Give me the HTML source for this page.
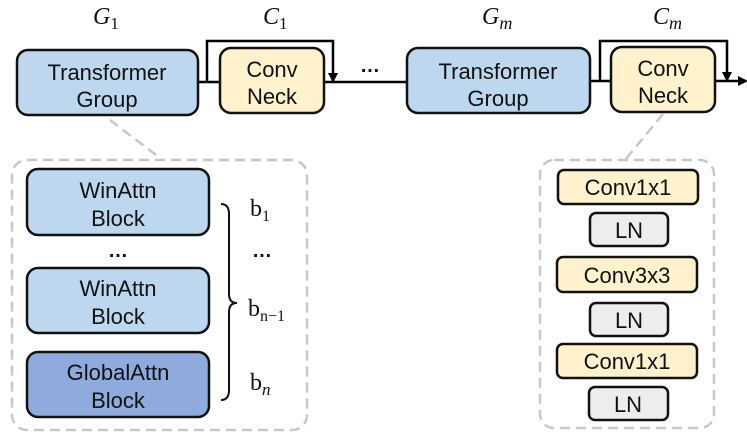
<!DOCTYPE html>
<html><head><meta charset="utf-8"><style>
html,body{margin:0;padding:0;background:#fff;}
svg{display:block;}
text{font-family:"Liberation Sans",sans-serif;fill:#111;}
.m{font-family:"Liberation Serif",serif;font-style:italic;}
.r{font-family:"Liberation Serif",serif;}
</style></head><body>
<svg width="747" height="439" viewBox="0 0 747 439" xmlns="http://www.w3.org/2000/svg">
<defs><marker id="a" markerWidth="10" markerHeight="10" refX="8" refY="5" orient="auto" markerUnits="userSpaceOnUse"><path d="M0,0 L10,5 L0,10 z" fill="#000"/></marker></defs>
<text x="93" y="24" class="m" font-size="24">G<tspan font-size="17" dy="5" font-style="normal">1</tspan></text>
<text x="263" y="24" class="m" font-size="24">C<tspan font-size="17" dy="5" font-style="normal">1</tspan></text>
<text x="482" y="24" class="m" font-size="24">G<tspan font-size="18" dy="5">m</tspan></text>
<text x="653" y="24" class="m" font-size="24">C<tspan font-size="18" dy="5">m</tspan></text>
<line x1="198" y1="82" x2="220" y2="82" stroke="#000" stroke-width="2.5"/>
<line x1="324" y1="82" x2="407" y2="82" stroke="#000" stroke-width="2.5"/>
<line x1="590" y1="81" x2="611" y2="81" stroke="#000" stroke-width="2.5"/>
<line x1="715" y1="81" x2="746" y2="81" stroke="#000" stroke-width="2.5" marker-end="url(#a)"/>
<path d="M207,82 V41 H333 V81" fill="none" stroke="#000" stroke-width="2.5" marker-end="url(#a)"/>
<path d="M600,81 V41 H727 V80" fill="none" stroke="#000" stroke-width="2.5" marker-end="url(#a)"/>
<text x="360" y="72" font-size="20" font-weight="bold">…</text>
<rect x="17" y="50" width="181" height="65" rx="11" fill="#bdd7ee" stroke="#111" stroke-width="2.5"/>
<text x="107" y="80" font-size="22" text-anchor="middle">Transformer</text>
<text x="107" y="107" font-size="22" text-anchor="middle">Group</text>
<rect x="220" y="48" width="104" height="65" rx="11" fill="#fff2cc" stroke="#111" stroke-width="2.5"/>
<text x="272" y="77" font-size="22" text-anchor="middle">Conv</text>
<text x="272" y="104" font-size="22" text-anchor="middle">Neck</text>
<rect x="407" y="48" width="183" height="65" rx="11" fill="#bdd7ee" stroke="#111" stroke-width="2.5"/>
<text x="498" y="79" font-size="22" text-anchor="middle">Transformer</text>
<text x="498" y="106" font-size="22" text-anchor="middle">Group</text>
<rect x="611" y="47" width="104" height="65" rx="11" fill="#fff2cc" stroke="#111" stroke-width="2.5"/>
<text x="663" y="76" font-size="22" text-anchor="middle">Conv</text>
<text x="663" y="103" font-size="22" text-anchor="middle">Neck</text>
<line x1="110" y1="120" x2="160" y2="158" stroke="#c8c8c8" stroke-width="2.5" stroke-dasharray="10,6"/>
<line x1="663" y1="114" x2="625" y2="160" stroke="#c8c8c8" stroke-width="2.5" stroke-dasharray="10,6"/>
<rect x="12" y="160" width="295" height="270" rx="15" fill="none" stroke="#c8c8c8" stroke-width="2.5" stroke-dasharray="10,6"/>
<rect x="27" y="169" width="182" height="66" rx="11" fill="#bdd7ee" stroke="#111" stroke-width="2.5"/>
<text x="118" y="198" font-size="22" text-anchor="middle">WinAttn</text>
<text x="118" y="226" font-size="22" text-anchor="middle">Block</text>
<text x="118" y="257" font-size="20" text-anchor="middle" font-weight="bold">…</text>
<rect x="27" y="268" width="182" height="65" rx="11" fill="#bdd7ee" stroke="#111" stroke-width="2.5"/>
<text x="118" y="296" font-size="22" text-anchor="middle">WinAttn</text>
<text x="118" y="324" font-size="22" text-anchor="middle">Block</text>
<rect x="27" y="352" width="182" height="65" rx="11" fill="#8faadc" stroke="#111" stroke-width="2.5"/>
<text x="118" y="380" font-size="22" text-anchor="middle">GlobalAttn</text>
<text x="118" y="408" font-size="22" text-anchor="middle">Block</text>
<path d="M221,204 Q229,204 229,214 V294 Q229,303 237,303 Q229,303 229,312 V390 Q229,400 221,400" fill="none" stroke="#111" stroke-width="2"/>
<text x="250" y="216" class="r" font-size="24">b<tspan font-size="16" dy="5">1</tspan></text>
<text x="252" y="257" font-size="20" font-weight="bold">…</text>
<text x="248" y="316" class="r" font-size="24">b<tspan font-size="16" dy="5">n−1</tspan></text>
<text x="250" y="390" class="r" font-size="24">b<tspan class="m" font-size="17" dy="5">n</tspan></text>
<rect x="540" y="160" width="174" height="268" rx="14" fill="none" stroke="#c8c8c8" stroke-width="2.5" stroke-dasharray="10,6"/>
<rect x="558" y="170" width="140" height="34" rx="6" fill="#fff2cc" stroke="#111" stroke-width="2.5"/>
<text x="628" y="195" font-size="22" text-anchor="middle">Conv1x1</text>
<rect x="590" y="213" width="78" height="33" rx="6" fill="#ededed" stroke="#111" stroke-width="2.5"/>
<text x="629" y="238" font-size="22" text-anchor="middle">LN</text>
<rect x="557" y="257" width="140" height="35" rx="6" fill="#fff2cc" stroke="#111" stroke-width="2.5"/>
<text x="627" y="283" font-size="22" text-anchor="middle">Conv3x3</text>
<rect x="590" y="303" width="78" height="33" rx="6" fill="#ededed" stroke="#111" stroke-width="2.5"/>
<text x="629" y="328" font-size="22" text-anchor="middle">LN</text>
<rect x="557" y="344" width="140" height="34" rx="6" fill="#fff2cc" stroke="#111" stroke-width="2.5"/>
<text x="627" y="369" font-size="22" text-anchor="middle">Conv1x1</text>
<rect x="589" y="387" width="79" height="33" rx="6" fill="#ededed" stroke="#111" stroke-width="2.5"/>
<text x="628" y="412" font-size="22" text-anchor="middle">LN</text>
</svg>
</body></html>
